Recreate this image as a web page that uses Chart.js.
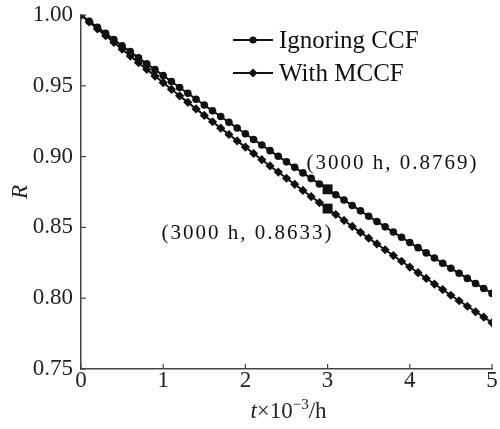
<!DOCTYPE html>
<html>
<head>
<meta charset="utf-8">
<script src="https://cdn.jsdelivr.net/npm/chart.js@4/dist/chart.umd.min.js"></script>
<style>
html, body { margin: 0; padding: 0; background: #fff; }
#wrap { width: 500px; height: 429px; }
</style>
</head>
<body>
<div id="wrap"><canvas id="relChart"></canvas></div>
<script>
// time, in thousands of hours
var tValues = [0, 0.1, 0.2, 0.3, 0.4, 0.5, 0.6, 0.7, 0.8, 0.9,
  1, 1.1, 1.2, 1.3, 1.4, 1.5, 1.6, 1.7, 1.8, 1.9,
  2, 2.1, 2.2, 2.3, 2.4, 2.5, 2.6, 2.7, 2.8, 2.9,
  3, 3.1, 3.2, 3.3, 3.4, 3.5, 3.6, 3.7, 3.8, 3.9,
  4, 4.1, 4.2, 4.3, 4.4, 4.5, 4.6, 4.7, 4.8, 4.9, 5];

var ignoringCCF = [1.0000, 0.9956, 0.9913, 0.9870, 0.9826, 0.9783, 0.9741, 0.9698, 0.9656, 0.9614,
  0.9572, 0.9530, 0.9488, 0.9447, 0.9405, 0.9364, 0.9323, 0.9283, 0.9242, 0.9202,
  0.9161, 0.9121, 0.9082, 0.9042, 0.9002, 0.8963, 0.8924, 0.8885, 0.8846, 0.8807,
  0.8769, 0.8731, 0.8693, 0.8655, 0.8617, 0.8579, 0.8542, 0.8504, 0.8467, 0.8430,
  0.8393, 0.8357, 0.8320, 0.8284, 0.8247, 0.8211, 0.8176, 0.8140, 0.8104, 0.8069, 0.8034];

var withMCCF = [1.0000, 0.9951, 0.9902, 0.9854, 0.9806, 0.9758, 0.9710, 0.9663, 0.9616, 0.9569,
  0.9522, 0.9475, 0.9429, 0.9383, 0.9337, 0.9291, 0.9246, 0.9201, 0.9156, 0.9111,
  0.9067, 0.9022, 0.8978, 0.8934, 0.8891, 0.8847, 0.8804, 0.8761, 0.8718, 0.8675,
  0.8633, 0.8591, 0.8549, 0.8507, 0.8465, 0.8424, 0.8383, 0.8342, 0.8301, 0.8261,
  0.8220, 0.8180, 0.8140, 0.8100, 0.8061, 0.8021, 0.7982, 0.7943, 0.7904, 0.7866, 0.7827];

var markT = [3, 3];
var markR = [0.8769, 0.8633];
var markLabels = ["(3000 h, 0.8769)", "(3000 h, 0.8633)"];

var seriesNames = ["Ignoring CCF", "With MCCF"];
var xTicks = [0, 1, 2, 3, 4, 5];
var yTicks = [0.75, 0.80, 0.85, 0.90, 0.95, 1.00];

var serif = '"Liberation Serif", "DejaVu Serif", serif';
var ink = "#111";
var axisInk = "#444";

function toPoints(xs, ys) {
  return xs.map(function(x, i) { return { x: x, y: ys[i] }; });
}

function drawMarker(ctx, style, x, y) {
  ctx.beginPath();
  if (style == "circle") {
    ctx.arc(x, y, 3.6, 0, Math.PI * 2);
  } else {
    ctx.moveTo(x, y - 4.5);
    ctx.lineTo(x + 4.5, y);
    ctx.lineTo(x, y + 4.5);
    ctx.lineTo(x - 4.5, y);
    ctx.closePath();
  }
  ctx.fill();
}

// ticks pointing in, legend, labels at the 3000 h marks, axis titles
var decorPlugin = {
  id: "decor",
  afterDraw: function(chart) {
    var ctx = chart.ctx;
    var xs = chart.scales.x;
    var ys = chart.scales.y;
    var area = chart.chartArea;
    ctx.save();

    ctx.strokeStyle = axisInk;
    ctx.lineWidth = 1.2;
    xTicks.forEach(function(v) {
      var px = xs.getPixelForValue(v);
      ctx.beginPath();
      ctx.moveTo(px, area.bottom);
      ctx.lineTo(px, area.bottom - 5);
      ctx.stroke();
    });
    yTicks.forEach(function(v) {
      var py = ys.getPixelForValue(v);
      ctx.beginPath();
      ctx.moveTo(area.left, py);
      ctx.lineTo(area.left + 5, py);
      ctx.stroke();
    });

    // legend
    var styles = ["circle", "diamond"];
    var rows = [40, 73];
    ctx.strokeStyle = ink;
    ctx.fillStyle = ink;
    ctx.lineWidth = 2;
    ctx.font = "25px " + serif;
    ctx.textAlign = "left";
    ctx.textBaseline = "middle";
    seriesNames.forEach(function(name, i) {
      var y = rows[i];
      ctx.beginPath();
      ctx.moveTo(233, y);
      ctx.lineTo(273, y);
      ctx.stroke();
      drawMarker(ctx, styles[i], 253, y);
      ctx.fillText(name, 279, y + 1);
    });

    // point labels
    ctx.font = "21px " + serif;
    ctx.letterSpacing = "2px";
    var p0x = xs.getPixelForValue(markT[0]);
    var p0y = ys.getPixelForValue(markR[0]);
    ctx.textAlign = "left";
    ctx.fillText(markLabels[0], p0x - 21, p0y - 26);
    var p1x = xs.getPixelForValue(markT[1]);
    var p1y = ys.getPixelForValue(markR[1]);
    ctx.textAlign = "right";
    ctx.fillText(markLabels[1], p1x + 6, p1y + 25);
    ctx.letterSpacing = "0px";

    // x title: t x 10^-3 / h
    var cx = (area.left + area.right) / 2 + 2;
    var ty = 411;
    var parts = [
      { s: "t", f: "italic 23px " + serif, dy: 0 },
      { s: "\u00d710", f: "23px " + serif, dy: 0 },
      { s: "\u22123", f: "15px " + serif, dy: -9 },
      { s: "/h", f: "23px " + serif, dy: 0 }
    ];
    var total = 0;
    parts.forEach(function(p) { ctx.font = p.f; p.w = ctx.measureText(p.s).width; total += p.w; });
    var x = cx - total / 2;
    ctx.textAlign = "left";
    ctx.textBaseline = "alphabetic";
    ctx.fillStyle = "#222";
    parts.forEach(function(p) {
      ctx.font = p.f;
      ctx.fillText(p.s, x, ty + 7 + p.dy);
      x += p.w;
    });

    // y title
    ctx.translate(21, (area.top + area.bottom) / 2);
    ctx.rotate(-Math.PI / 2);
    ctx.font = "italic 23px " + serif;
    ctx.textAlign = "center";
    ctx.textBaseline = "middle";
    ctx.fillText("R", 0, 0);

    ctx.restore();
  }
};

var ctx = document.getElementById("relChart").getContext("2d");
var relChart = new Chart(ctx, {
  type: "line",
  data: {
    datasets: [{
      label: seriesNames[0],
      data: toPoints(tValues, ignoringCCF),
      borderColor: ink,
      backgroundColor: ink,
      borderWidth: 2,
      pointStyle: "circle",
      pointRadius: 3.8,
      pointBorderWidth: 0,
      fill: false
    }, {
      label: seriesNames[1],
      data: toPoints(tValues, withMCCF),
      borderColor: ink,
      backgroundColor: ink,
      borderWidth: 2,
      pointStyle: "rectRot",
      pointRadius: 4.6,
      pointBorderWidth: 0,
      fill: false
    }, {
      label: "3000 h",
      data: toPoints(markT, markR),
      showLine: false,
      borderColor: ink,
      backgroundColor: ink,
      pointStyle: "rect",
      pointRadius: 7,
      pointBorderWidth: 0
    }]
  },
  options: {
    responsive: true,
    maintainAspectRatio: false,
    animation: false,
    events: [],
    layout: { padding: { left: 0, right: 8, top: 15, bottom: 0 } },
    plugins: {
      legend: { display: false },
      tooltip: { enabled: false }
    },
    scales: {
      x: {
        type: "linear",
        min: 0,
        max: 5,
        afterBuildTicks: function(s) { s.ticks = xTicks.map(function(v) { return { value: v }; }); },
        afterFit: function(s) { s.height = 60; s.paddingLeft = 0; s.paddingRight = 0; },
        grid: { display: false, drawTicks: false, tickLength: 0 },
        border: { display: true, color: axisInk, width: 1.5 },
        ticks: {
          padding: -2,
          color: "#222",
          font: { family: serif, size: 23 },
          callback: function(v) { return String(v); }
        }
      },
      y: {
        type: "linear",
        min: 0.75,
        max: 1.0,
        afterBuildTicks: function(s) { s.ticks = yTicks.map(function(v) { return { value: v }; }); },
        afterFit: function(s) { s.width = 81; s.paddingTop = 0; s.paddingBottom = 0; },
        grid: { display: false, drawTicks: false, tickLength: 0 },
        border: { display: true, color: axisInk, width: 1.5 },
        ticks: {
          padding: 8,
          color: "#222",
          font: { family: serif, size: 23 },
          callback: function(v) { return v.toFixed(2); }
        }
      }
    }
  },
  plugins: [decorPlugin]
});
</script>
</body>
</html>
